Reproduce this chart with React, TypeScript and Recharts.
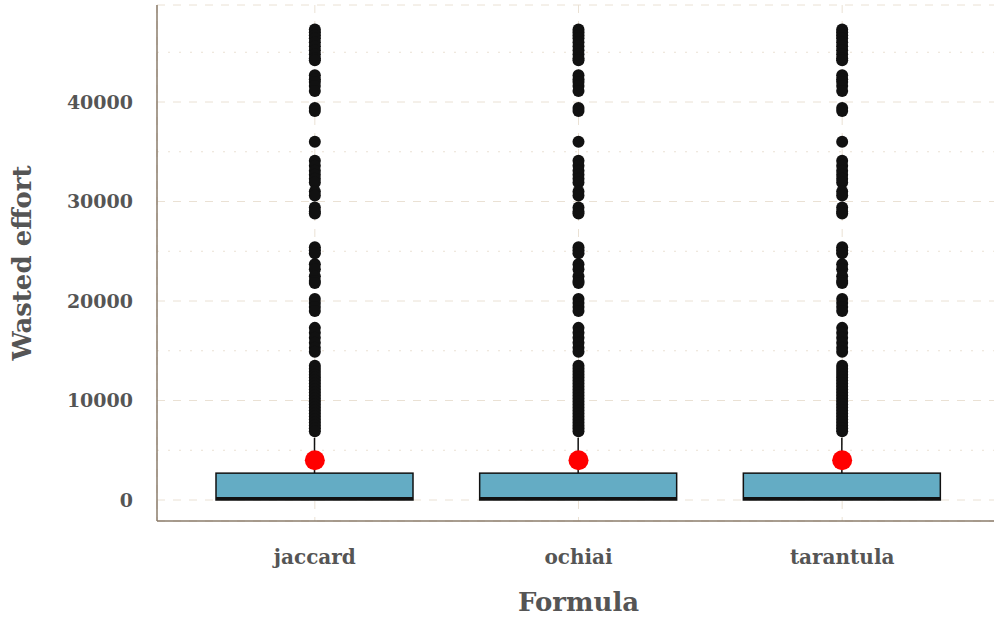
import { ComposedChart, Bar, Scatter, XAxis, YAxis, CartesianGrid, ReferenceLine } from "recharts";

const formulas = ["jaccard", "ochiai", "tarantula"];

// box statistics (same for each formula)
const q1 = 0;
const median = 150;
const q3 = 2700;
const whiskerHigh = 6250;
const meanValue = 4000;

const outlierValues = [
  47300, 47000, 46700, 46400, 46000, 45600, 45200, 44800, 44400, 44200,
  42700, 42300, 42000, 41600, 41100,
  39400, 39100, 36000,
  34100, 33600, 33100, 32700, 32300, 31900, 31000, 30600, 29400, 29000, 28800,
  25400, 25100, 24800, 23700, 23200, 22500, 22000, 21800,
  20200, 19800, 19400, 19000, 17300, 16800, 16300, 15800, 15300, 14900,
  13500, 13200, 12900, 12600, 12300, 12000, 11700, 11400, 11100, 10800,
  10500, 10200, 9900, 9600, 9300, 9000, 8700, 8400, 8100, 7800, 7500, 7200, 6900,
];

const majorTicks = [0, 10000, 20000, 30000, 40000];
const minorTicks = [5000, 15000, 25000, 35000, 45000];

const boxData = formulas.map((name) => ({ name, range: [q1, whiskerHigh] }));
const outlierData = formulas.flatMap((name) => outlierValues.map((value) => ({ name, value })));
const meanData = formulas.map((name) => ({ name, value: meanValue }));

const FONT = "'DejaVu Serif', serif";
const TEXT = "#555555";

const BoxShape = (props: any) => {
  const { x, y, width, height } = props;
  const k = height / (whiskerHigh - q1);
  const bottom = y + height;
  const yQ3 = bottom - (q3 - q1) * k;
  const yMed = bottom - (median - q1) * k;
  const cx = x + width / 2;
  return (
    <g>
      <line x1={cx} x2={cx} y1={y} y2={yQ3} stroke="#111" strokeWidth={1.5} />
      <rect x={x} y={yQ3} width={width} height={bottom - yQ3} fill="#64acc4" stroke="#111" strokeWidth={1.5} />
      <line x1={x} x2={x + width} y1={yMed} y2={yMed} stroke="#111" strokeWidth={3} />
    </g>
  );
};

export default function App() {
  return (
    <div style={{ position: "fixed", left: 0, top: 0, width: 994, height: 619, overflow: "hidden", background: "#fff" }}>
      <ComposedChart width={1001} height={619} data={boxData} margin={{ top: 5, right: 1, bottom: 0, left: 0 }}>
        <CartesianGrid stroke="#eae1d4" strokeDasharray="8 8" vertical horizontal />
        {minorTicks.map((t) => (
          <ReferenceLine key={t} y={t} stroke="#eae1d4" strokeDasharray="2 9" />
        ))}
        <XAxis
          dataKey="name"
          allowDuplicatedCategory={false}
          padding={{ left: 26, right: 26 }}
          height={98}
          tickLine={false}
          tickSize={8}
          tickMargin={21}
          axisLine={{ stroke: "#8b7d6b", strokeWidth: 1.5 }}
          tick={{ fill: TEXT, fontSize: 20, fontFamily: FONT, fontWeight: "bold" }}
          label={{ value: "Formula", position: "insideBottom", offset: 8, fill: TEXT, fontSize: 26, fontFamily: FONT, fontWeight: "bold" }}
        />
        <YAxis
          dataKey="value"
          type="number"
          domain={[-2110, 49750]}
          ticks={majorTicks}
          width={157}
          tickLine={false}
          tickSize={8}
          tickMargin={16}
          axisLine={{ stroke: "#8b7d6b", strokeWidth: 1.5 }}
          tick={{ fill: TEXT, fontSize: 19, fontFamily: FONT, fontWeight: "bold" }}
          label={{ value: "Wasted effort", angle: -90, position: "insideLeft", offset: 22, style: { textAnchor: "middle" }, fill: TEXT, fontSize: 26, fontFamily: FONT, fontWeight: "bold" }}
        />
        <Bar dataKey="range" barSize={197} shape={<BoxShape />} isAnimationActive={false} />
        <Scatter data={outlierData} fill="#111111" shape={(p: any) => <circle cx={p.cx} cy={p.cy} r={6} fill="#111111" />} isAnimationActive={false} />
        <Scatter data={meanData} fill="#ff0000" shape={(p: any) => <circle cx={p.cx} cy={p.cy} r={10} fill="#ff0000" />} isAnimationActive={false} />
      </ComposedChart>
    </div>
  );
}
